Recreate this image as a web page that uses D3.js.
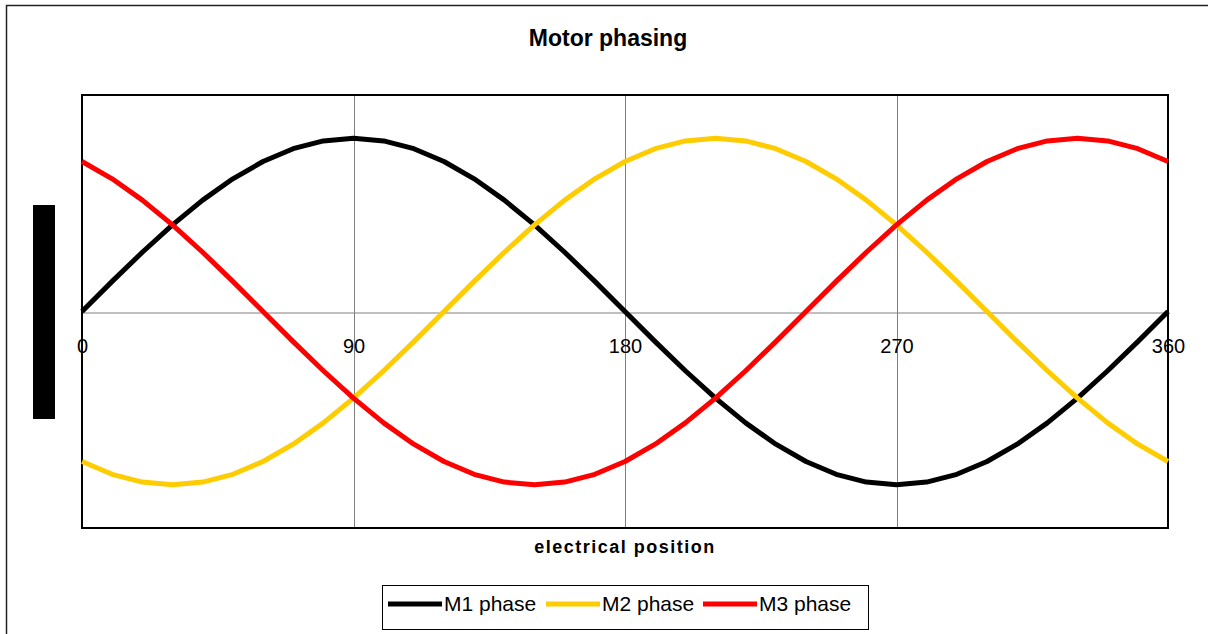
<!DOCTYPE html>
<html>
<head>
<meta charset="utf-8">
<script src="https://cdn.jsdelivr.net/npm/d3@7"></script>
<style>
  html, body { margin: 0; padding: 0; background: #fff; overflow: hidden; }
  svg { display: block; }
  text { font-family: "Liberation Sans", Arial, sans-serif; }
</style>
</head>
<body>
<svg id="chart" width="1208" height="634"></svg>
<script>
// ---- data ----
const positions = [0,10,20,30,40,50,60,70,80,90,100,110,120,130,140,150,160,170,180,190,200,210,220,230,240,250,260,270,280,290,300,310,320,330,340,350,360];
const m1Phase = [0,0.174,0.342,0.5,0.643,0.766,0.866,0.94,0.985,1,0.985,0.94,0.866,0.766,0.643,0.5,0.342,0.174,0,-0.174,-0.342,-0.5,-0.643,-0.766,-0.866,-0.94,-0.985,-1,-0.985,-0.94,-0.866,-0.766,-0.643,-0.5,-0.342,-0.174,0];
const m2Phase = [-0.866,-0.94,-0.985,-1,-0.985,-0.94,-0.866,-0.766,-0.643,-0.5,-0.342,-0.174,0,0.174,0.342,0.5,0.643,0.766,0.866,0.94,0.985,1,0.985,0.94,0.866,0.766,0.643,0.5,0.342,0.174,0,-0.174,-0.342,-0.5,-0.643,-0.766,-0.866];
const m3Phase = [0.866,0.766,0.643,0.5,0.342,0.174,0,-0.174,-0.342,-0.5,-0.643,-0.766,-0.866,-0.94,-0.985,-1,-0.985,-0.94,-0.866,-0.766,-0.643,-0.5,-0.342,-0.174,0,0.174,0.342,0.5,0.643,0.766,0.866,0.94,0.985,1,0.985,0.94,0.866];
const seriesNames = ["M1 phase", "M2 phase", "M3 phase"];
const seriesColors = ["#000000", "#FFCC00", "#FF0000"];
const xTicks = [0, 90, 180, 270, 360];
const chartTitle = "Motor phasing";
const xAxisTitle = "electrical position";

const series = [m1Phase, m2Phase, m3Phase].map((vals, i) => ({
  name: seriesNames[i], color: seriesColors[i],
  points: positions.map((p, j) => ({x: p, y: vals[j]}))
}));

// ---- layout ----
const svg = d3.select("#chart");
const plot = {left: 82, right: 1168, top: 95, bottom: 528};

const x = d3.scaleLinear().domain([0, 360]).range([plot.left, plot.right]);
const y = d3.scaleLinear().domain([-1.25, 1.25]).range([plot.bottom, plot.top]);

// outer chart border (only top and left edges visible)
svg.append("path")
  .attr("d", "M6.5,640 L6.5,5.5 L1210,5.5")
  .attr("fill", "none").attr("stroke", "#222").attr("stroke-width", 1.5);

// title
svg.append("text")
  .attr("x", 608).attr("y", 46)
  .attr("text-anchor", "middle")
  .attr("font-size", 23).attr("font-weight", "bold")
  .text(chartTitle);

// y-axis title block (rendered as a solid bar in the reference)
svg.append("rect")
  .attr("x", 33).attr("y", 205).attr("width", 22).attr("height", 214)
  .attr("fill", "#000");

// vertical gridlines
svg.append("g").selectAll("line")
  .data(xTicks.filter(t => t > 0 && t < 360))
  .join("line")
  .attr("x1", d => Math.round(x(d)) + 0.5).attr("x2", d => Math.round(x(d)) + 0.5)
  .attr("y1", plot.top).attr("y2", plot.bottom)
  .attr("stroke", "#808080").attr("stroke-width", 1);

// x axis at zero
const xAxis = d3.axisBottom(x).tickValues(xTicks).tickSize(0).tickPadding(0).tickFormat(d3.format("d"));
const gx = svg.append("g")
  .attr("transform", `translate(0,${Math.round(y(0)) + 0.5})`)
  .call(xAxis);
gx.select(".domain").attr("stroke", "#808080").attr("stroke-width", 1);
gx.selectAll("text")
  .attr("font-family", "'Liberation Sans', Arial, sans-serif")
  .attr("font-size", 20).attr("fill", "#000")
  .attr("dy", null).attr("y", 40);

// plot border
svg.append("rect")
  .attr("x", plot.left).attr("y", plot.top)
  .attr("width", plot.right - plot.left).attr("height", plot.bottom - plot.top)
  .attr("fill", "none").attr("stroke", "#000").attr("stroke-width", 2);

// lines
const line = d3.line().x(d => x(d.x)).y(d => y(d.y));
svg.append("g").selectAll("path")
  .data(series)
  .join("path")
  .attr("d", d => line(d.points))
  .attr("fill", "none")
  .attr("stroke", d => d.color)
  .attr("stroke-width", 5)
  .attr("stroke-linejoin", "round");

// x axis title
svg.append("text")
  .attr("x", 625).attr("y", 553)
  .attr("text-anchor", "middle")
  .attr("font-size", 18).attr("font-weight", "bold")
  .attr("letter-spacing", 1.5)
  .text(xAxisTitle);

// legend
const lg = svg.append("g");
lg.append("rect")
  .attr("x", 382.5).attr("y", 585.5).attr("width", 486).attr("height", 44)
  .attr("fill", "#fff").attr("stroke", "#000").attr("stroke-width", 1);
const legendX = [388, 546, 703];
series.forEach((s, i) => {
  lg.append("line")
    .attr("x1", legendX[i]).attr("x2", legendX[i] + 54)
    .attr("y1", 604).attr("y2", 604)
    .attr("stroke", s.color).attr("stroke-width", 5);
  lg.append("text")
    .attr("x", legendX[i] + 56).attr("y", 611)
    .attr("font-size", 21)
    .text(s.name);
});
</script>
</body>
</html>
